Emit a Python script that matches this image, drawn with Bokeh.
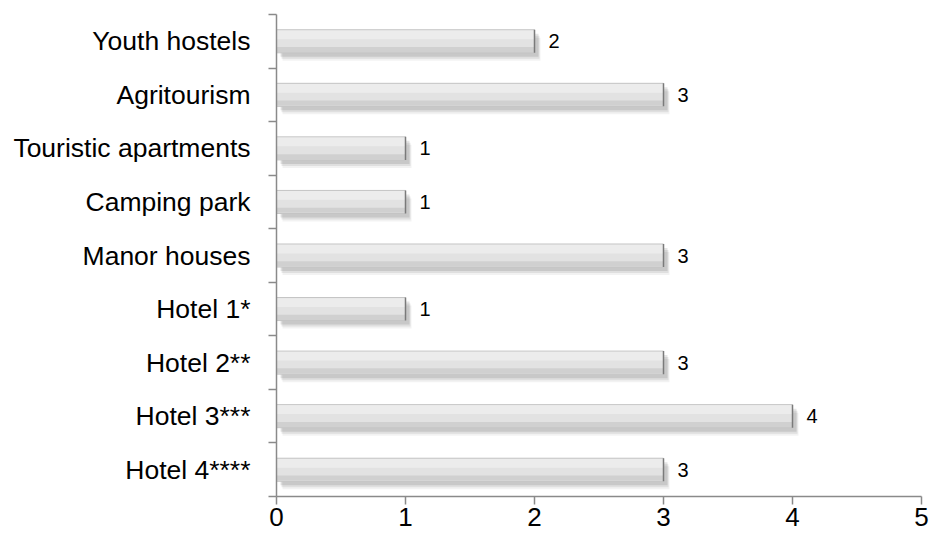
from bokeh.plotting import figure
from bokeh.models import Range1d, FixedTicker, ColumnDataSource
from bokeh.core.properties import value
from bokeh.embed import file_html
from bokeh.resources import INLINE

categories = ["Hotel 4****", "Hotel 3***", "Hotel 2**", "Hotel 1*", "Manor houses",
              "Camping park", "Touristic apartments", "Agritourism", "Youth hostels"]
counts = [3, 4, 3, 1, 3, 1, 1, 3, 2]
x_ticks = [0, 1, 2, 3, 4, 5]

FONT = "Liberation Sans"
AXIS_GRAY = "#8a8a8a"
n = len(categories)
ys = list(range(n))
H = 0.43
px_y = 9.0 / 482.0   # data units per pixel (y)
px_x = 5.0 / 645.0   # data units per pixel (x)

src = ColumnDataSource(dict(
    y=ys, v=counts, lab=[str(c) for c in counts],
    top=[y + H / 2 for y in ys], bot=[y - H / 2 for y in ys],
))

p = figure(width=930, height=538, output_backend="svg", toolbar_location=None,
           x_range=Range1d(0, 5), y_range=Range1d(-0.5, n - 0.5),
           min_border_left=276, min_border_right=9, min_border_top=14, min_border_bottom=42)
p.outline_line_color = None
p.xgrid.visible = False
p.ygrid.visible = False
p.background_fill_color = "white"
p.border_fill_color = "white"

# soft shadow layers
for dy, dx, a in [(8, 6, 0.05), (6, 5, 0.08), (4, 4, 0.10)]:
    p.hbar(y=[y - dy * px_y for y in ys], left=[dx * px_x] * n,
           right=[c + dx * px_x for c in counts], height=H,
           fill_color="black", fill_alpha=a, line_color=None)

# main bar
p.hbar(y="y", left=0, right="v", height=H, source=src,
       fill_color="#e2e2e2", line_color="#c4c4c4", line_width=1)
# top highlight
p.hbar(y=[y + H * 0.28 for y in ys], left=0, right=counts, height=H * 0.38,
       fill_color="#ececec", line_color=None)
# bottom shade
p.hbar(y=[y - H * 0.36 for y in ys], left=0, right=counts, height=H * 0.22,
       fill_color="#d0d0d0", line_color=None)
# right edge
p.segment(x0="v", x1="v", y0="bot", y1="top", source=src,
          line_color="#7a7a7a", line_width=1.5)

# value labels
p.text(x="v", y="y", text="lab", source=src, x_offset=14,
       text_baseline="middle", text_align="left",
       text_font=value(FONT), text_font_size="20px", text_color="black")

# y axis
ya = p.yaxis[0]
ya.ticker = FixedTicker(ticks=ys, minor_ticks=[y - 0.5 for y in ys] + [n - 0.5])
ya.major_label_overrides = {i: c for i, c in enumerate(categories)}
ya.major_tick_line_color = None
ya.major_tick_out = 0
ya.major_tick_in = 0
ya.minor_tick_out = 8
ya.minor_tick_in = 0
ya.minor_tick_line_color = AXIS_GRAY
ya.minor_tick_line_width = 1.5
ya.axis_line_color = AXIS_GRAY
ya.axis_line_width = 1.5
ya.major_label_standoff = 18
ya.major_label_text_font = FONT
ya.major_label_text_font_size = "26.5px"
ya.major_label_text_color = "black"

# x axis
xa = p.xaxis[0]
xa.ticker = FixedTicker(ticks=x_ticks, minor_ticks=[])
xa.major_tick_out = 8
xa.major_tick_in = 0
xa.major_tick_line_color = AXIS_GRAY
xa.major_tick_line_width = 1.5
xa.minor_tick_line_color = None
xa.axis_line_color = AXIS_GRAY
xa.axis_line_width = 1.5
xa.major_label_standoff = 3
xa.major_label_text_font = FONT
xa.major_label_text_font_size = "26px"
xa.major_label_text_color = "black"

open("out.html", "w").write(file_html(p, INLINE))
